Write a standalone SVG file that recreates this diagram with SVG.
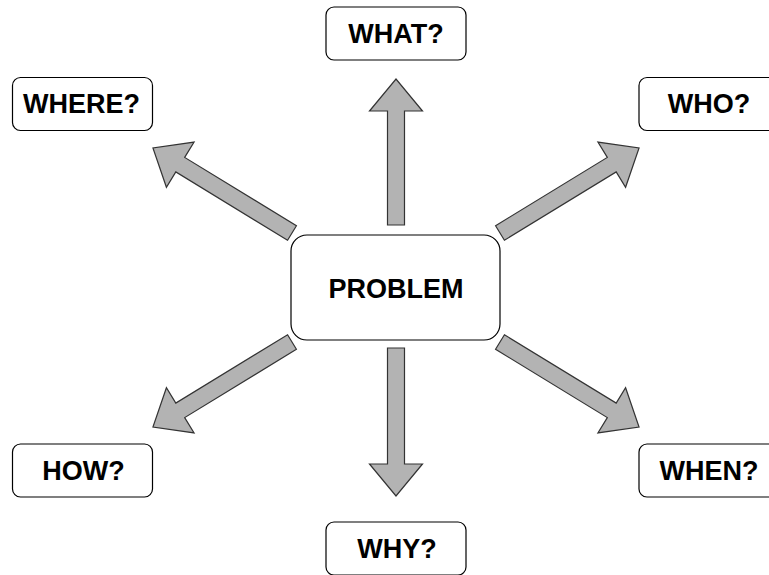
<svg xmlns="http://www.w3.org/2000/svg" width="769" height="575" viewBox="0 0 769 575">
<defs>
<style>
.box{fill:#ffffff;stroke:#000000;stroke-width:1.2}
.lbl{font-family:"Liberation Sans",Arial,sans-serif;font-weight:bold;font-size:27px;fill:#000000;text-anchor:middle}
.arr{fill:#b3b3b3;stroke:#333333;stroke-width:1.2;stroke-linejoin:miter}
</style>
</defs>
<rect width="769" height="575" fill="#ffffff"/>
<g id="connectors">
<polygon class="arr" transform="translate(396,225) rotate(-90)" points="0,-8.5 114,-8.5 114,-26.5 146,0 114,26.5 114,8.5 0,8.5"/>
<polygon class="arr" transform="translate(396,348) rotate(90)" points="0,-8.5 116,-8.5 116,-26.5 148,0 116,26.5 116,8.5 0,8.5"/>
<polygon class="arr" transform="translate(292,233) rotate(211.45)" points="0,-8.5 131,-8.5 131,-26.5 163,0 131,26.5 131,8.5 0,8.5"/>
<polygon class="arr" transform="translate(500,233) rotate(-31.45)" points="0,-8.5 131,-8.5 131,-26.5 163,0 131,26.5 131,8.5 0,8.5"/>
<polygon class="arr" transform="translate(292,342) rotate(148.55)" points="0,-8.5 131,-8.5 131,-26.5 163,0 131,26.5 131,8.5 0,8.5"/>
<polygon class="arr" transform="translate(500,342) rotate(31.45)" points="0,-8.5 131,-8.5 131,-26.5 163,0 131,26.5 131,8.5 0,8.5"/>
</g>
<g id="problem">
<rect class="box" x="291" y="235" width="209" height="105" rx="16"/>
<text class="lbl" x="396" y="298">PROBLEM</text>
</g>
<g id="what">
<rect class="box" x="326" y="7" width="140" height="53" rx="8"/>
<text class="lbl" x="396" y="43">WHAT?</text>
</g>
<g id="where">
<rect class="box" x="12.5" y="77.5" width="140" height="53" rx="8"/>
<text class="lbl" x="81.5" y="113">WHERE?</text>
</g>
<g id="who">
<rect class="box" x="639" y="77.5" width="140" height="53" rx="8"/>
<text class="lbl" x="709" y="113">WHO?</text>
</g>
<g id="how">
<rect class="box" x="12.5" y="444" width="140" height="53" rx="8"/>
<text class="lbl" x="83.5" y="480">HOW?</text>
</g>
<g id="when">
<rect class="box" x="639" y="444" width="140" height="53" rx="8"/>
<text class="lbl" x="709" y="480">WHEN?</text>
</g>
<g id="why">
<rect class="box" x="326" y="522" width="140" height="53" rx="8"/>
<text class="lbl" x="397" y="558">WHY?</text>
</g>
</svg>
